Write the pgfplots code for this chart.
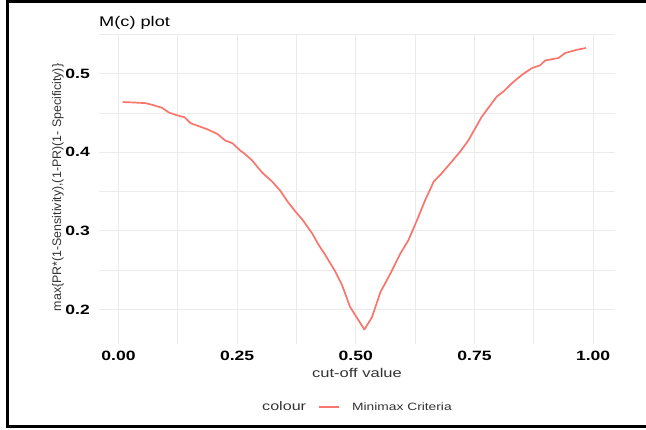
\documentclass[border=0pt]{standalone}
\usepackage{pgfplots}
\pgfplotsset{compat=1.18}
\usepackage{fontspec}
\setmainfont[FakeStretch=1.3]{Liberation Sans}
\newfontfamily\plainsans{Liberation Sans}
\definecolor{ggred}{HTML}{F8766D}
\definecolor{gridgrey}{HTML}{EBEBEB}
\definecolor{txtgrey}{HTML}{333333}

\begin{document}
\begin{tikzpicture}
\path[use as bounding box,fill=white] (0pt,0pt) rectangle (646pt,430pt);
\begin{axis}[
    at={(99pt,86pt)}, anchor=south west,
    scale only axis,
    width=516pt, height=310.3pt,
    xmin=-0.041, xmax=1.046,
    ymin=0.156, ymax=0.551,
    xtick={0,0.25,0.5,0.75,1},
    xticklabels={0.00,0.25,0.50,0.75,1.00},
    ytick={0.2,0.3,0.4,0.5},
    yticklabels={0.2,0.3,0.4,0.5},
    minor xtick={0.125,0.375,0.625,0.875},
    minor ytick={0.25,0.35,0.45,0.55},
    grid=both,
    major grid style={gridgrey, line width=1.2pt},
    minor grid style={gridgrey, line width=0.7pt},
    axis line style={draw=none},
    tick style={draw=none},
    xticklabel style={font=\fontsize{13.5}{14}\selectfont\bfseries, anchor=north, inner sep=0pt, yshift=-7pt},
    yticklabel style={font=\fontsize{13.5}{14}\selectfont\bfseries, anchor=east, inner sep=0pt, xshift=-9pt},
]
\addplot[ggred, line width=1.7pt, line join=round] coordinates {
(0.009,0.4640) (0.030,0.4635) (0.057,0.4626) (0.074,0.4600) (0.092,0.4566)
(0.106,0.4507) (0.124,0.4470) (0.139,0.4447) (0.152,0.4370) (0.166,0.4340)
(0.187,0.4294) (0.208,0.4235) (0.225,0.4150) (0.240,0.4116) (0.257,0.4020)
(0.264,0.3990) (0.281,0.3900) (0.303,0.3740) (0.324,0.3626) (0.341,0.3510)
(0.355,0.3384) (0.373,0.3244) (0.387,0.3147) (0.408,0.2968) (0.422,0.2819)
(0.436,0.2690) (0.457,0.2480) (0.471,0.2310) (0.488,0.2030) (0.499,0.1926)
(0.518,0.1744) (0.534,0.1900) (0.552,0.2223) (0.573,0.2458) (0.594,0.2713)
(0.611,0.2883) (0.629,0.3138) (0.646,0.3390) (0.664,0.3626) (0.681,0.3733)
(0.699,0.3860) (0.720,0.4010) (0.737,0.4150) (0.765,0.4450) (0.797,0.4710)
(0.811,0.4774) (0.829,0.4880) (0.850,0.4987) (0.871,0.5072) (0.888,0.5106)
(0.899,0.5170) (0.927,0.5200) (0.941,0.5264) (0.966,0.5306) (0.985,0.5328)
};
\end{axis}
% title and axis titles
\node[anchor=base west, inner sep=0pt, font=\fontsize{14}{16}\selectfont] at (99pt,403.3pt) {M(c) plot};
\node[anchor=base, inner sep=0pt, text=txtgrey, font=\fontsize{12.7}{14}\selectfont] at (357pt,52pt) {cut-off value};
\node[anchor=base, rotate=90, inner sep=0pt, text=txtgrey, font=\plainsans\fontsize{12.4}{14}\selectfont] at (61pt,242.5pt) {max\{PR*(1-Sensitivity),(1-PR)(1- Specificity)\}};
% legend
\node[anchor=base west, inner sep=0pt, text=txtgrey, font=\fontsize{12.4}{14}\selectfont] at (262pt,19pt) {colour};
\draw[ggred, line width=1.7pt] (319pt,23pt) -- (339pt,23pt);
\node[anchor=base west, inner sep=0pt, text=txtgrey, font=\fontsize{10.6}{12}\selectfont] at (352pt,19pt) {Minimax Criteria};
% outer frame
\draw[black, line width=3pt] (646pt,428.5pt) -- (7.5pt,428.5pt) -- (7.5pt,3.5pt) -- (646pt,3.5pt);
\end{tikzpicture}
\end{document}
